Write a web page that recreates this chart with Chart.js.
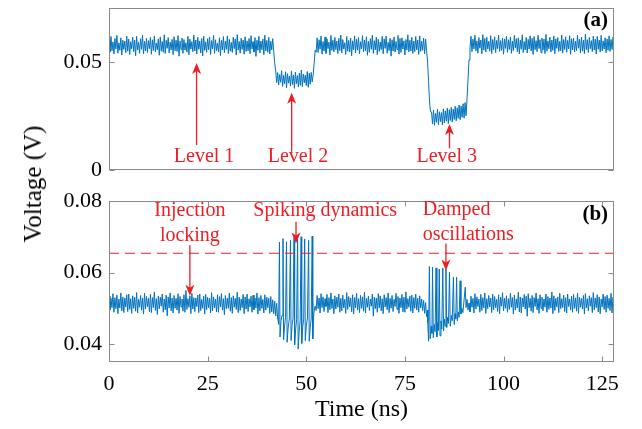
<!DOCTYPE html>
<html>
<head>
<meta charset="utf-8">
<script src="https://cdn.jsdelivr.net/npm/chart.js@4.4.0/dist/chart.umd.min.js"></script>
<style>
  html, body { margin: 0; padding: 0; background: #fff; }
  #wrap { position: relative; width: 642px; height: 429px; overflow: hidden; }
  canvas { position: absolute; left: 0; }
  #chartA { top: 0; }
  #chartB { top: 185px; }
  #ylabel {
    position: absolute; left: 33px; top: 184px;
    transform: translate(-50%, -50%) rotate(-90deg);
    font: 25px 'Liberation Serif', serif; color: #000; white-space: nowrap;
  }
</style>
</head>
<body>
<div id="wrap">
  <canvas id="chartA" width="642" height="185"></canvas>
  <canvas id="chartB" width="642" height="244"></canvas>
  <div id="ylabel">Voltage (V)</div>
</div>
<script>
// trace samples every 0.25 ns, in mV
const stepNs = 0.25;

// panel (a): levels 1, 2, 3 (t = 0 .. 128 ns)
const traceA = [
  // level 1
  60.4,54.6,61.8,55.2,59.3,53.7,60.9,56.0,62.3,54.1,58.9,55.4,61.2,53.2,60.1,55.8,59.7,54.3,62.0,55.0,
  60.6,53.5,59.4,56.1,61.5,54.8,60.2,52.9,61.9,55.5,59.1,54.0,60.8,55.9,62.4,53.8,59.6,55.1,61.0,54.4,
  59.9,56.2,61.4,53.6,60.3,55.3,62.1,54.7,58.8,55.7,60.7,53.1,61.6,55.0,59.5,54.5,62.6,53.9,60.0,56.3,
  61.3,54.2,59.2,55.6,60.5,53.4,61.7,55.2,60.1,54.9,62.2,52.7,59.8,55.8,61.1,54.0,60.4,55.5,58.9,54.6,
  61.9,53.3,60.6,56.0,59.4,54.8,62.5,55.1,60.2,53.7,61.4,55.9,59.7,54.2,60.9,52.8,62.0,55.4,59.3,54.5,
  60.8,55.7,61.6,53.5,59.9,56.1,62.3,54.0,60.3,55.3,58.7,54.7,61.2,53.0,60.0,55.6,61.8,54.3,59.6,55.9,
  62.1,53.9,60.5,55.0,59.1,54.4,61.5,56.2,60.7,53.2,62.7,55.5,59.5,54.1,61.0,55.8,60.2,53.6,61.7,54.9,
  59.8,55.2,60.9,53.8,62.2,56.0,59.4,54.6,61.3,52.6,60.1,55.4,61.9,54.2,59.7,55.7,60.6,53.4,62.4,55.1,
  60.0,54.5,61.4,53.7,59.6,55.6,60.8,
  55.0,49.5,45.8,40.5,
  // level 2
  45.1,39.4,44.2,40.6,46.0,38.7,43.8,39.9,45.5,38.1,44.6,40.2,43.5,38.9,45.9,39.6,44.0,37.8,
  45.3,40.0,43.7,38.4,44.9,39.2,46.3,38.6,44.4,40.4,43.9,39.1,45.6,38.3,44.8,39.7,45.2,40.8,
  44.0,49.5,55.5,54.5,
  // level 1
  61.2,54.4,60.3,55.9,62.0,53.6,59.5,55.1,61.6,54.0,60.7,56.2,59.2,53.3,62.3,55.4,60.1,54.7,61.4,55.8,
  59.7,53.9,60.9,55.3,62.5,54.2,60.4,56.0,58.9,53.5,61.8,55.0,60.0,54.6,61.1,52.9,59.8,55.7,62.1,54.3,
  60.6,55.5,61.3,53.7,59.4,56.1,62.2,54.8,60.2,55.2,61.7,53.1,59.6,54.5,60.8,55.9,62.4,54.0,59.9,55.6,
  61.5,53.4,60.5,54.9,59.3,55.7,61.9,53.8,60.7,56.3,62.0,54.1,59.1,55.3,61.0,52.7,60.3,55.0,61.6,54.6,
  59.5,55.8,62.3,53.6,60.9,54.4,61.2,56.0,59.8,53.2,60.4,55.5,62.6,54.7,60.1,55.1,61.4,53.9,59.7,54.8,
  61.8,55.6,60.2,53.5,62.1,54.9,59.6,55.4,61.0,53.8,60.6,55.2,
  50.0,41.0,31.5,27.0,
  // level 3
  26.9,21.3,27.8,20.7,26.2,22.1,28.1,21.0,27.0,22.4,26.6,20.9,28.3,21.8,27.4,22.6,28.6,21.5,
  27.9,22.9,29.0,22.2,28.2,23.4,29.5,22.8,28.8,23.9,30.1,23.3,29.6,24.4,30.7,24.0,31.2,25.1,
  33.0,42.0,51.0,56.5,
  // level 1
  61.9,54.8,60.6,56.1,62.4,55.2,59.8,54.1,61.3,56.4,60.2,53.8,62.7,55.5,60.9,54.6,61.5,56.0,59.6,55.0,
  62.2,53.9,60.4,55.7,61.7,54.3,60.0,56.2,62.5,54.9,59.9,55.4,61.1,53.6,60.7,56.3,62.0,54.5,60.3,55.8,
  61.6,54.0,59.7,55.3,62.3,56.5,60.8,54.7,61.2,53.7,60.1,55.9,62.6,54.4,59.5,55.6,61.4,54.2,60.5,56.0,
  62.1,55.1,60.9,53.5,61.8,55.7,59.9,54.8,62.4,56.2,60.3,54.3,61.0,55.5,60.6,53.9,62.8,55.0,59.8,56.1,
  61.5,54.6,60.2,55.4,62.0,53.8,60.7,56.3,61.3,54.9,59.6,55.2,62.5,54.1,60.4,55.8,61.7,54.5,60.0,56.0,
  62.2,53.6,60.8,55.6,61.1,54.7,59.7,55.3,62.4,56.4,60.5,54.2,61.6,55.0,60.1,53.9,62.9,55.7,60.3,54.4,
  61.4,56.1,59.9,54.8,62.0,55.5,60.6,53.7,61.8,55.9,60.2,54.6,62.3,55.2,59.8,56.0,61.2,54.3,60.7,55.4,
  62.1,54.9,60.4,55.8,61.5,54.7
];

// panel (b): locked baseline pieces between the bursts, with their start times (ns)
const baseBStart = [0, 52.25, 91.25];
const baseB1 = [
  53.4,49.6,52.8,50.2,54.1,48.9,53.0,49.9,53.7,48.5,52.6,50.1,54.3,49.3,53.2,48.8,52.9,50.4,53.8,49.1,
  54.0,49.7,52.7,48.6,53.5,50.0,53.1,49.2,54.4,48.7,52.5,50.3,53.6,49.5,52.9,48.4,54.2,49.8,53.3,50.5,
  52.8,49.0,53.9,48.8,53.0,50.2,54.6,49.4,52.7,48.3,53.4,49.9,53.1,50.6,54.0,48.9,52.6,49.6,53.7,47.9,
  53.2,50.1,54.3,49.3,52.9,48.7,53.6,50.0,52.8,49.5,54.1,48.6,53.3,50.4,52.6,49.2,53.8,48.9,55.0,49.7,
  52.7,50.3,53.5,48.5,54.2,49.8,53.0,49.1,52.9,50.5,53.7,48.8,54.0,49.4,52.5,50.0,53.4,48.4,53.9,49.6,
  53.1,50.2,52.8,48.7,54.4,49.3,53.2,50.1,52.6,49.0,53.8,48.9,53.3,50.4,54.1,49.5,52.7,48.2,53.6,49.9,
  52.9,50.0,54.2,49.2,53.0,48.6,53.5,50.3,52.8,49.7,54.5,48.8,53.1,49.4,52.6,50.2,53.9,48.5,53.2,49.8,
  54.0,49.1,52.7,50.4,53.4,48.9,53.7,49.6,52.9,50.1,54.3,48.4,53.0,49.3,53.6,50.0,52.5,48.7,53.8,49.5,
  53.1,50.2,52.8,48.6,53.3,49.0,52.4,48.5,52.0,47.9,51.4,47.2
];
const baseB2 = [
  50.6,49.4,53.6,49.9,52.9,48.7,54.1,50.2,53.2,49.1,52.7,50.5,53.9,48.8,53.0,49.6,54.3,50.0,52.6,48.5,
  53.5,49.8,53.1,50.3,54.0,48.9,52.8,49.3,53.7,50.1,52.5,48.6,54.4,49.7,53.3,50.4,52.9,49.0,53.8,48.4,
  53.0,50.2,54.2,49.5,52.7,48.8,53.6,50.0,53.2,49.2,54.5,48.7,52.8,50.3,53.4,49.4,52.6,50.6,54.0,47.8,
  53.1,49.9,52.9,48.9,54.1,50.1,53.5,49.3,52.7,48.5,53.8,50.4,53.0,49.6,54.3,48.8,52.8,50.0,53.6,49.1,
  52.5,50.5,54.2,49.7,53.3,48.6,52.9,50.2,53.9,49.0,53.1,48.9,54.6,49.8,52.7,50.3,53.4,49.2,53.7,48.7,
  53.0,50.0,54.0,49.5,52.8,48.9,53.5,50.1,52.6,49.4,52.2,48.6,51.6,47.7,49.5
];
const baseB3 = [
  51.5,49.0,53.4,50.3,52.8,48.7,54.1,49.8,53.2,50.5,52.6,48.9,53.9,49.4,53.0,50.1,54.3,48.6,52.7,49.9,
  53.6,50.4,52.9,48.8,54.0,49.6,53.3,50.2,52.5,49.1,53.8,48.5,53.1,50.6,54.4,49.3,52.8,50.0,53.5,48.9,
  52.7,49.7,54.2,50.3,53.0,48.4,53.7,49.5,52.6,50.1,54.5,49.0,53.2,48.7,52.9,50.4,53.9,49.8,53.4,47.8,
  54.1,50.2,52.8,49.2,53.6,48.8,53.0,50.5,54.3,49.6,52.7,48.6,53.8,50.0,53.1,49.3,52.6,50.3,54.0,48.9,
  53.3,49.7,52.9,50.1,54.6,48.5,53.5,49.4,52.8,50.4,53.2,48.8,54.2,49.9,52.7,50.2,53.7,49.1,53.0,48.7,
  54.0,50.5,52.6,49.5,53.4,48.9,53.9,50.0,52.9,49.2,54.3,48.6,53.1,50.3,52.8,49.8,53.6,48.4,54.1,50.1,
  52.7,49.3,53.5,50.6,53.0,48.8,54.4,49.6,52.9,50.2,53.8,49.0,53.2,48.5,52.6,50.4,54.0,49.7,53.3,48.9,
  53.7,50.0,52.8,49.4,54.2,48.7,53.1,50.3
];

// spiking burst (ns, mV)
const burst1Time = [42.8, 43.0, 43.2, 43.35, 43.6, 43.85, 44.1, 44.25, 44.5, 44.75, 45.0, 45.15, 45.4, 45.7,
  46.0, 46.15, 46.4, 46.65, 46.9, 47.05, 47.3, 47.55, 47.8, 47.95, 48.2, 48.45, 48.7, 48.85, 49.1, 49.35,
  49.6, 49.75, 50.0, 50.3, 50.6, 50.75, 51.0, 51.25, 51.5, 51.65, 51.9, 52.2];
const burst1Mv = [47.0, 45.5, 68.5, 42.0, 46.5, 48.0, 69.5, 41.2, 45.0, 47.5, 68.6, 40.5, 44.5, 47.0,
  69.0, 41.0, 45.2, 47.2, 69.8, 39.8, 44.0, 46.8, 69.3, 38.6, 43.5, 46.5, 70.0, 40.2, 44.8, 47.0,
  69.4, 41.0, 45.0, 47.3, 69.0, 40.8, 44.6, 47.0, 70.2, 41.5, 48.5, 50.5];

// damped oscillations (ns, mV)
const burst2Time = [80.8, 81.0, 81.2, 81.4, 81.65, 81.85, 82.0, 82.2, 82.45, 82.65, 82.9, 83.1, 83.3, 83.5,
  83.7, 83.9, 84.15, 84.35, 84.6, 84.8, 85.0, 85.2, 85.4, 85.6, 85.85, 86.05, 86.3, 86.5, 86.8, 87.0,
  87.3, 87.5, 87.7, 87.9, 88.1, 88.3, 88.55, 88.75, 89.0, 89.2, 89.45, 89.7, 90.3, 90.5, 90.75, 91.0];
const burst2Mv = [46.0, 40.8, 61.7, 41.5, 45.0, 43.0, 61.5, 41.8, 45.5, 43.5, 61.3, 42.0, 46.0, 43.8,
  61.0, 42.3, 46.5, 44.2, 61.3, 43.7, 47.0, 45.0, 61.0, 44.6, 47.5, 45.8, 60.1, 45.0, 48.0, 46.5,
  58.7, 45.5, 48.5, 47.0, 58.7, 46.5, 49.0, 47.5, 57.7, 48.4, 50.0, 48.8, 55.9, 50.2, 52.5, 49.5];

const thresholdV = 0.0654;

// axes
const xRange = [0, 128];
const yRangeA = [0, 0.075];
const yRangeB = [0.035, 0.08];
const xTicks = [0, 25, 50, 75, 100, 125];
const xTickLabels = ['0', '25', '50', '75', '100', '125'];
const yTicksA = [0, 0.05];
const yTickLabelsA = ['0', '0.05'];
const yTicksB = [0.04, 0.06, 0.08];
const yTickLabelsB = ['0.04', '0.06', '0.08'];

// annotations (ns, V)
const notesA = ['Level 1', 'Level 2', 'Level 3'];
const notesAX = [24.1, 47.9, 85.6];
const notesAY = [0.006, 0.006, 0.006];
const arrowsAX = [22.2, 46.3, 86.3];
const arrowsAFrom = [0.0116, 0.0085, 0.0100];
const arrowsATo = [0.0495, 0.0358, 0.0213];

const notesB = ['Injection', 'locking', 'Spiking dynamics', 'Damped', 'oscillations'];
const notesBX = [20.5, 20.5, 54.8, 79.5, 79.5];
const notesBY = [0.0772, 0.0704, 0.0772, 0.0775, 0.0706];
const notesBAlign = ['center', 'center', 'center', 'left', 'left'];
const arrowsBX = [20.5, 47.4, 85.4];
const arrowsBFrom = [0.0676, 0.0742, 0.0681];
const arrowsBTo = [0.0535, 0.0681, 0.0606];

const blue = '#0072BD';
const red = '#ee1d23';
const axisColor = '#8a8a8a';
const serif = "'Liberation Serif', serif";
const tickLen = 5;

const toPoints = (mv, t0) => mv.map((v, i) => ({ x: t0 + i * stepNs, y: v / 1000 }));
const burstPoints = (ts, mv) => ts.map((t, i) => ({ x: t, y: mv[i] / 1000 }));

const pointsA = toPoints(traceA, 0);
const pointsB = [
  ...toPoints(baseB1, baseBStart[0]),
  ...burstPoints(burst1Time, burst1Mv),
  ...toPoints(baseB2, baseBStart[1]),
  ...burstPoints(burst2Time, burst2Mv),
  ...toPoints(baseB3, baseBStart[2])
];

function drawArrow(ctx, x, y0, y1) {
  const dir = Math.sign(y1 - y0);
  ctx.beginPath();
  ctx.moveTo(x, y0);
  ctx.lineTo(x, y1 - dir * 7);
  ctx.stroke();
  ctx.beginPath();
  ctx.moveTo(x, y1);
  ctx.lineTo(x - 4.5, y1 - dir * 11);
  ctx.lineTo(x, y1 - dir * 8);
  ctx.lineTo(x + 4.5, y1 - dir * 11);
  ctx.closePath();
  ctx.fill();
}

// frame with inward ticks, arrows and texts
function boxPlugin(cfg) {
  return {
    id: 'box',
    afterDraw(chart) {
      const { ctx, chartArea: a } = chart;
      const xs = chart.scales.x, ys = chart.scales.y;
      const L = Math.round(a.left) + 0.5, R = Math.round(a.right) - 0.5;
      const T = Math.round(a.top) + 0.5, B = Math.round(a.bottom) - 0.5;
      ctx.save();
      ctx.strokeStyle = axisColor;
      ctx.lineWidth = 1;
      ctx.strokeRect(L, T, R - L, B - T);
      ctx.beginPath();
      cfg.yTicks.forEach(v => {
        const y = Math.round(ys.getPixelForValue(v)) + 0.5;
        ctx.moveTo(L, y); ctx.lineTo(L + tickLen, y);
        ctx.moveTo(R, y); ctx.lineTo(R - tickLen, y);
      });
      cfg.xTicks.forEach(v => {
        const x = Math.round(xs.getPixelForValue(v)) + 0.5;
        ctx.moveTo(x, B); ctx.lineTo(x, B - tickLen);
        ctx.moveTo(x, T); ctx.lineTo(x, T + tickLen);
      });
      ctx.stroke();

      ctx.strokeStyle = red;
      ctx.fillStyle = red;
      ctx.lineWidth = 1.3;
      cfg.arrowX.forEach((t, i) => {
        drawArrow(ctx, xs.getPixelForValue(t), ys.getPixelForValue(cfg.arrowFrom[i]), ys.getPixelForValue(cfg.arrowTo[i]));
      });
      ctx.font = '20px ' + serif;
      ctx.textBaseline = 'middle';
      cfg.notes.forEach((s, i) => {
        ctx.textAlign = cfg.align ? cfg.align[i] : 'center';
        ctx.fillText(s, xs.getPixelForValue(cfg.noteX[i]), ys.getPixelForValue(cfg.noteY[i]));
      });

      ctx.fillStyle = '#000';
      ctx.font = 'bold 21px ' + serif;
      ctx.textAlign = 'right';
      ctx.fillText(cfg.tag, xs.getPixelForValue(126.5), ys.getPixelForValue(cfg.tagY));
      ctx.restore();
    }
  };
}

function yScale(range, ticks, labels) {
  return {
    type: 'linear', min: range[0], max: range[1],
    grid: { display: false, drawTicks: false }, border: { display: false },
    afterBuildTicks: s => { s.ticks = ticks.map(v => ({ value: v })); },
    afterFit: s => { s.width = 109; s.paddingTop = 0; s.paddingBottom = 0; },
    ticks: { callback: (v, i) => labels[i], color: '#000', padding: 7, font: { family: serif, size: 22 } }
  };
}

Chart.defaults.font.family = serif;

new Chart(document.getElementById('chartA'), {
  type: 'line',
  data: {
    datasets: [{ data: pointsA, borderColor: blue, borderWidth: 1, pointRadius: 0, tension: 0 }]
  },
  options: {
    responsive: false, animation: false, events: [],
    layout: { padding: { top: 8, right: 28, bottom: 15, left: 0 } },
    plugins: { legend: { display: false }, tooltip: { enabled: false } },
    scales: {
      x: { type: 'linear', min: xRange[0], max: xRange[1], display: false },
      y: yScale(yRangeA, yTicksA, yTickLabelsA)
    }
  },
  plugins: [boxPlugin({
    yTicks: yTicksA, xTicks: [],
    notes: notesA, noteX: notesAX, noteY: notesAY,
    arrowX: arrowsAX, arrowFrom: arrowsAFrom, arrowTo: arrowsATo,
    tag: '(a)', tagY: 0.069
  })]
});

new Chart(document.getElementById('chartB'), {
  type: 'line',
  data: {
    datasets: [
      { data: [{ x: xRange[0], y: thresholdV }, { x: xRange[1], y: thresholdV }],
        borderColor: red, borderWidth: 1, borderDash: [10, 6], pointRadius: 0 },
      { data: pointsB, borderColor: blue, borderWidth: 1, pointRadius: 0, tension: 0 }
    ]
  },
  options: {
    responsive: false, animation: false, events: [],
    layout: { padding: { top: 16, right: 28, bottom: 0, left: 0 } },
    plugins: { legend: { display: false }, tooltip: { enabled: false } },
    scales: {
      x: {
        type: 'linear', min: xRange[0], max: xRange[1],
        grid: { display: false, drawTicks: false }, border: { display: false },
        afterBuildTicks: s => { s.ticks = xTicks.map(v => ({ value: v })); },
        afterFit: s => { s.height = 67; s.paddingLeft = 0; s.paddingRight = 0; },
        ticks: { callback: (v, i) => xTickLabels[i], color: '#000', padding: 9, autoSkip: false, maxRotation: 0,
          font: { family: serif, size: 22 } },
        title: { display: true, text: 'Time (ns)', color: '#000', font: { family: serif, size: 24 },
          padding: { top: 0, bottom: 5 } }
      },
      y: yScale(yRangeB, yTicksB, yTickLabelsB)
    }
  },
  plugins: [boxPlugin({
    yTicks: yTicksB, xTicks: xTicks,
    notes: notesB, noteX: notesBX, noteY: notesBY, align: notesBAlign,
    arrowX: arrowsBX, arrowFrom: arrowsBFrom, arrowTo: arrowsBTo,
    tag: '(b)', tagY: 0.0761
  })]
});
</script>
</body>
</html>
